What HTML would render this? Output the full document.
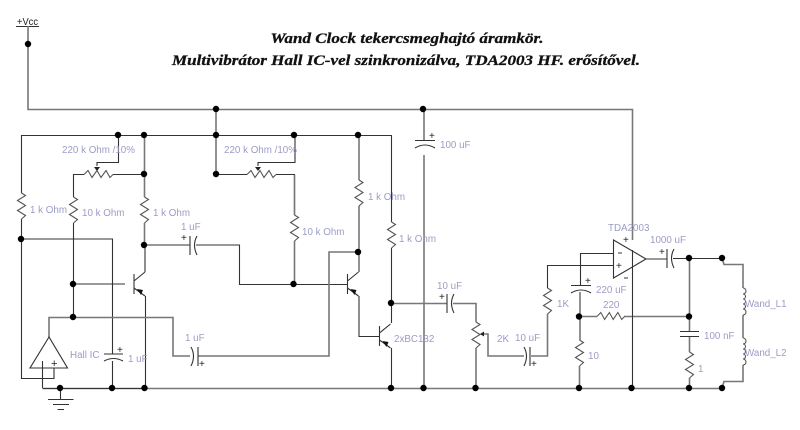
<!DOCTYPE html>
<html>
<head>
<meta charset="utf-8">
<style>
html,body{margin:0;padding:0;background:#fff;}
svg{display:block;}
.d{fill:none;stroke:#333;stroke-width:1.1;}
.g{fill:none;stroke:#777;stroke-width:1.6;}
.t{font-family:"Liberation Sans",sans-serif;font-size:9.8px;fill:#9c9cc6;}
.k{font-family:"Liberation Sans",sans-serif;font-size:10px;fill:#222;}
.h{font-family:"Liberation Serif",serif;font-size:15px;font-weight:bold;font-style:italic;fill:#111;stroke:#111;stroke-width:0.3;}
</style>
</head>
<body>
<svg width="800" height="430" viewBox="0 0 800 430" xmlns="http://www.w3.org/2000/svg">
<defs>
<path id="rv" d="M0 0L4 2.5L-4 7.5L4 12.5L-4 17.5L4 22.5L0 26" fill="none" stroke="#555" stroke-width="1.1"/>
<path id="rh" d="M0 0L4 -4L8 3L13 -4L17 3L22 -4L26 3L29 0" fill="none" stroke="#555" stroke-width="1.1"/>
<path id="tr" d="M0 -10V10M0 -3L11 -12M0 4L11 12" fill="none" stroke="#333" stroke-width="1.1"/>
<path id="ar" d="M3 5L9 6L7 11Z" fill="#111"/>
<path id="lv" d="M0 0a3 3 0 0 1 0 6a2.5 2.5 0 0 1 0 5a2.5 2.5 0 0 1 0 5a2.5 2.5 0 0 1 0 5a3 3 0 0 1 0 6" fill="none" stroke="#555" stroke-width="1.1"/>
</defs>

<text class="h" x="407" y="43" text-anchor="middle" textLength="273" lengthAdjust="spacingAndGlyphs">Wand Clock tekercsmeghajtó áramkör.</text>
<text class="h" x="406" y="65" text-anchor="middle" textLength="468" lengthAdjust="spacingAndGlyphs">Multivibrátor Hall IC-vel szinkronizálva, TDA2003 HF. erősítővel.</text>

<!-- Vcc -->
<text class="k" x="17" y="25" textLength="21" lengthAdjust="spacingAndGlyphs" fill="#444">+Vcc</text>
<path d="M16 26.5H39" class="d"/>
<path d="M28 26V109.5H632.5V240M216 109.5V174.5" class="g"/>

<!-- top rail -->
<path d="M21.5 193V135.5H358.5M358.5 135.5H391.5V222M21.5 219V378.5H54V368" class="d"/>
<!-- left pot -->
<path d="M73.5 197V174.5H84M113 174.5H144.5M97 166V162.5H118.5V135.5" class="d"/>
<use href="#rh" x="84" y="174.5"/>
<path d="M94 167H100L97 171Z" fill="#222"/>
<path d="M144.5 135.5V197M144.5 223V245" class="g"/>
<path d="M73.5 223V317" class="d"/>
<use href="#rv" x="21.5" y="193"/>
<use href="#rv" x="73.5" y="197"/>
<use href="#rv" x="144.5" y="197"/>
<!-- middle pot -->
<path d="M216 174.5H247M276 174.500H294.5V215M258 166V162.5H295V135.5" class="d"/>
<use href="#rh" x="247" y="174.5"/>
<path d="M255 167H261L258 171Z" fill="#222"/>
<path d="M294.5 175V215M294.5 241V284" class="g"/>
<use href="#rv" x="294.5" y="215"/>
<!-- 1k right pair -->
<path d="M359 135.5V180M359 206V272" class="g"/>
<use href="#rv" x="359" y="180"/>
<use href="#rv" x="391.5" y="222"/>
<path d="M391.5 248V323M391.5 348V388" class="d"/>
<!-- cross wires -->
<path d="M21.5 239H112.5V354M112.5 361V388" class="d"/>
<path d="M73.5 284H125M144.5 245H190M196 245H239.5V284.5H347" class="d"/>
<path d="M145 245V272M145.500 296V388" class="d"/>

<!-- transistor 1 -->
<use href="#tr" x="134" y="284"/><use href="#ar" x="134" y="284"/>
<!-- transistor 2 -->
<use href="#tr" x="347.5" y="284"/><use href="#ar" x="347.5" y="284"/>
<path d="M359 296V336.5H379" class="d"/>
<!-- transistor 3 -->
<use href="#tr" x="379.5" y="336"/><use href="#ar" x="379.5" y="336"/>

<!-- Hall IC -->
<path d="M49 337V317.5H173V356H190M198 356H329V252H359" class="g"/>
<path d="M49 337L30 368H67.5Z" class="d" fill="#fff"/>
<path d="M42.500 361V388" class="d"/>
<text class="k" x="51" y="367" style="font-size:11px">+</text>
<path d="M60.500 388V399M48 399.500H73.500M53 404.500H69M57.500 409.500H64" class="d"/>

<!-- bottom rail -->
<path d="M42.500 388.500H722" class="g"/>
<path d="M42.500 388.500H145" class="d"/>

<!-- cap hall -->
<path d="M104 354H123M104 361Q113.500 356 123 361" class="d"/>
<text class="k" x="117" y="353">+</text>
<!-- 1uF top -->
<path d="M190 236V255M197 236Q192 245 197 255" class="d"/>
<text class="k" x="181" y="241">+</text>
<!-- 1uF lower -->
<path d="M191 347Q196 356 191 366M198 347V366" class="d"/>
<text class="k" x="199" y="367">+</text>

<!-- 100 uF -->
<path d="M424 109V140M424 155V388" class="g"/>
<path d="M415 140.500H435M415 148Q425 142 435 148" class="d"/>
<text class="k" x="429" y="139">+</text>

<!-- 10 uF first -->
<path d="M391 303.500H447M453 303.500H476V322" class="g"/>
<path d="M447 294V313M454 294Q449 303 454 313" class="d"/>
<text class="k" x="439" y="300">+</text>
<!-- 2K pot -->
<use href="#rv" x="476" y="322"/>
<path d="M476 348V388" class="g"/>
<path d="M481 334H488V356H524M531 356H547.500V320" class="g"/>
<path d="M480 334L484 331.500V336.500Z" fill="#222"/>
<path d="M524 347Q529 356 524 366M530 347V366" class="d"/>
<text class="k" x="531" y="367">+</text>

<!-- 1K -->
<use href="#rv" x="547.500" y="288"/>
<path d="M547.500 288V265.500H613M580.500 286V253.500H613" class="d"/>
<path d="M547.500 314V320" class="g"/>
<!-- 220uF -->
<path d="M571 285.500H591M571 293Q581 287 591 293" class="d"/>
<text class="k" x="585" y="284">+</text>
<path d="M580 292V340" class="g"/>
<use href="#rv" x="579.500" y="340"/>
<path d="M579.500 366V388" class="g"/>
<!-- 220 res -->
<path d="M580 316.500H597M624 316.500H689" class="g"/>
<g transform="translate(597 316.500) scale(0.95 1)"><use href="#rh"/></g>

<!-- op amp -->
<path d="M613.500 240L646 259L613.500 278Z" class="d" fill="#fff"/>
<path d="M632.500 250V388" class="d"/>
<text class="k" x="623" y="243">+</text>
<path d="M618 253H622M624 278H628" class="d" stroke-width="1.400"/>
<text class="k" x="616" y="269">+</text>
<!-- output -->
<path d="M646 259H667M673 258.500H722" class="d"/>
<path d="M667 249V268M674 249Q669 258 674 268" class="d"/>
<text class="k" x="659" y="255">+</text>
<path d="M689.500 258V331M689.500 337V352" class="g"/>
<path d="M680 331.500H699M680 336.500H699" class="d"/>
<use href="#rv" x="689.500" y="352"/>
<path d="M689.500 378V388" class="g"/>
<!-- wand coils -->
<path d="M722 258L724 264.500H743V288M743 315V338M743 365V381.500H724L722 388" class="g"/>
<use href="#lv" x="743" y="288"/>
<use href="#lv" x="743" y="338"/>

<!-- dots -->
<g fill="#000">
<circle cx="28" cy="44" r="3.2"/><circle cx="216" cy="109" r="3.2"/><circle cx="423" cy="109" r="3.2"/>
<circle cx="118" cy="135" r="3.2"/><circle cx="144" cy="135" r="3.2"/><circle cx="216" cy="135" r="3.2"/><circle cx="294" cy="135" r="3.2"/><circle cx="358" cy="135" r="3.2"/>
<circle cx="144" cy="174" r="3.2"/><circle cx="216" cy="174" r="3.2"/>
<circle cx="21" cy="239" r="3.2"/><circle cx="144" cy="245" r="3.2"/><circle cx="358" cy="252" r="3.2"/>
<circle cx="73" cy="284" r="3.2"/><circle cx="293.500" cy="284" r="3.2"/><circle cx="391" cy="303" r="3.2"/>
<circle cx="73" cy="317" r="3.2"/><circle cx="579" cy="316.500" r="3.2"/><circle cx="689" cy="316.500" r="3.2"/><circle cx="689" cy="258" r="3.2"/><circle cx="722" cy="258" r="3.2"/>
<circle cx="60" cy="388" r="3.2"/><circle cx="112" cy="388" r="3.2"/><circle cx="144.500" cy="388" r="3.2"/><circle cx="391" cy="388" r="3.2"/><circle cx="423.500" cy="388" r="3.2"/><circle cx="475.500" cy="388" r="3.2"/><circle cx="579" cy="388" r="3.2"/><circle cx="631.500" cy="388" r="3.2"/><circle cx="689" cy="388" r="3.2"/><circle cx="722" cy="388" r="3.2"/>
</g>

<!-- labels -->
<text class="t" x="62" y="153">220 k Ohm /10%</text>
<text class="t" x="224" y="153">220 k Ohm /10%</text>
<text class="t" x="30" y="213">1 k Ohm</text>
<text class="t" x="82" y="216">10 k Ohm</text>
<text class="t" x="153" y="216">1 k Ohm</text>
<text class="t" x="368" y="200">1 k Ohm</text>
<text class="t" x="302" y="235">10 k Ohm</text>
<text class="t" x="399" y="242">1 k Ohm</text>
<text class="t" x="440" y="148">100 uF</text>
<text class="t" x="181" y="230">1 uF</text>
<text class="t" x="185" y="341">1 uF</text>
<text class="t" x="70" y="358">Hall IC</text>
<text class="t" x="128" y="362">1 uF</text>
<text class="t" x="394" y="342">2xBC132</text>
<text class="t" x="437" y="289">10 uF</text>
<text class="t" x="497" y="342">2K</text>
<text class="t" x="515" y="341">10 uF</text>
<text class="t" x="608" y="231">TDA2003</text>
<text class="t" x="650" y="243">1000 uF</text>
<text class="t" x="596" y="293">220 uF</text>
<text class="t" x="603" y="308">220</text>
<text class="t" x="557" y="307">1K</text>
<text class="t" x="588" y="359">10</text>
<text class="t" x="704" y="339">100 nF</text>
<text class="t" x="698" y="372">1</text>
<text class="t" x="745" y="307">Wand_L1</text>
<text class="t" x="745" y="356">Wand_L2</text>
</svg>
</body>
</html>
